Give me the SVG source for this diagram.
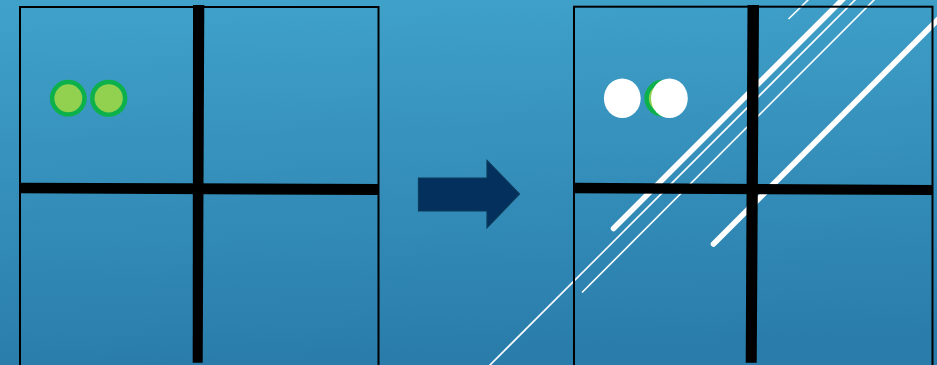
<svg xmlns="http://www.w3.org/2000/svg" width="937" height="365" viewBox="0 0 937 365">
  <defs>
    <linearGradient id="bg" x1="0" y1="0" x2="0.1" y2="1">
      <stop offset="0" stop-color="#40a2ca"/>
      <stop offset="1" stop-color="#2a7dab"/>
    </linearGradient>
    <style>
      .frame { fill: none; stroke: #000; stroke-width: 2; }
      .bar { fill: #000; }
      .gdot { fill: #92d050; stroke: #0db14b; stroke-width: 4.5; }
      .wdot { fill: #fff; }
      .thin { stroke: #fff; stroke-width: 1.6; fill: none; }
      .thick { stroke: #fff; stroke-width: 5.5; stroke-linecap: round; fill: none; }
    </style>
  </defs>
  <rect x="0" y="0" width="937" height="365" fill="url(#bg)"/>

  <g id="before">
    <rect class="frame" x="20" y="7" width="358.5" height="370"/>
    <polygon class="bar" points="193,5 204.3,5 202.7,362.7 192.7,362.7"/>
    <polygon class="bar" points="20,182.7 379,184 379,195 20,193.3"/>
    <circle class="gdot" cx="68.3" cy="98.3" r="16.2"/>
    <circle class="gdot" cx="108.7" cy="98.3" r="16.4"/>
  </g>

  <g id="arrow">
    <polygon points="418.5,178 487,178 487,160.5 519.5,194 487,227.8 487,211 418.5,211" fill="#03305c" stroke="#0d3a5a" stroke-width="1.2"/>
  </g>

  <g id="after">
    <g id="glass-lines">
      <line class="thin" x1="489" y1="366" x2="856" y2="-1"/>
      <line class="thin" x1="582" y1="292.5" x2="875" y2="-1"/>
      <line class="thin" x1="788.5" y1="19" x2="809" y2="-1"/>
      <line class="thick" x1="613.5" y1="228.5" x2="845" y2="-3"/>
      <line class="thick" x1="713.5" y1="244" x2="940" y2="17.5"/>
    </g>
    <polygon class="bar" points="747.5,5 759,5 756.7,362.7 745.7,362.7"/>
    <polygon class="bar" points="574,182.7 933,185 933,195 574,193.3"/>
    <rect class="frame" x="574" y="6.7" width="358.5" height="370"/>
    <circle class="gdot" cx="662.8" cy="98.3" r="16.2"/>
    <ellipse class="wdot" cx="622.3" cy="98.3" rx="18.4" ry="19.8"/>
    <ellipse class="wdot" cx="669.4" cy="98.3" rx="18.4" ry="19.8"/>
  </g>
</svg>
